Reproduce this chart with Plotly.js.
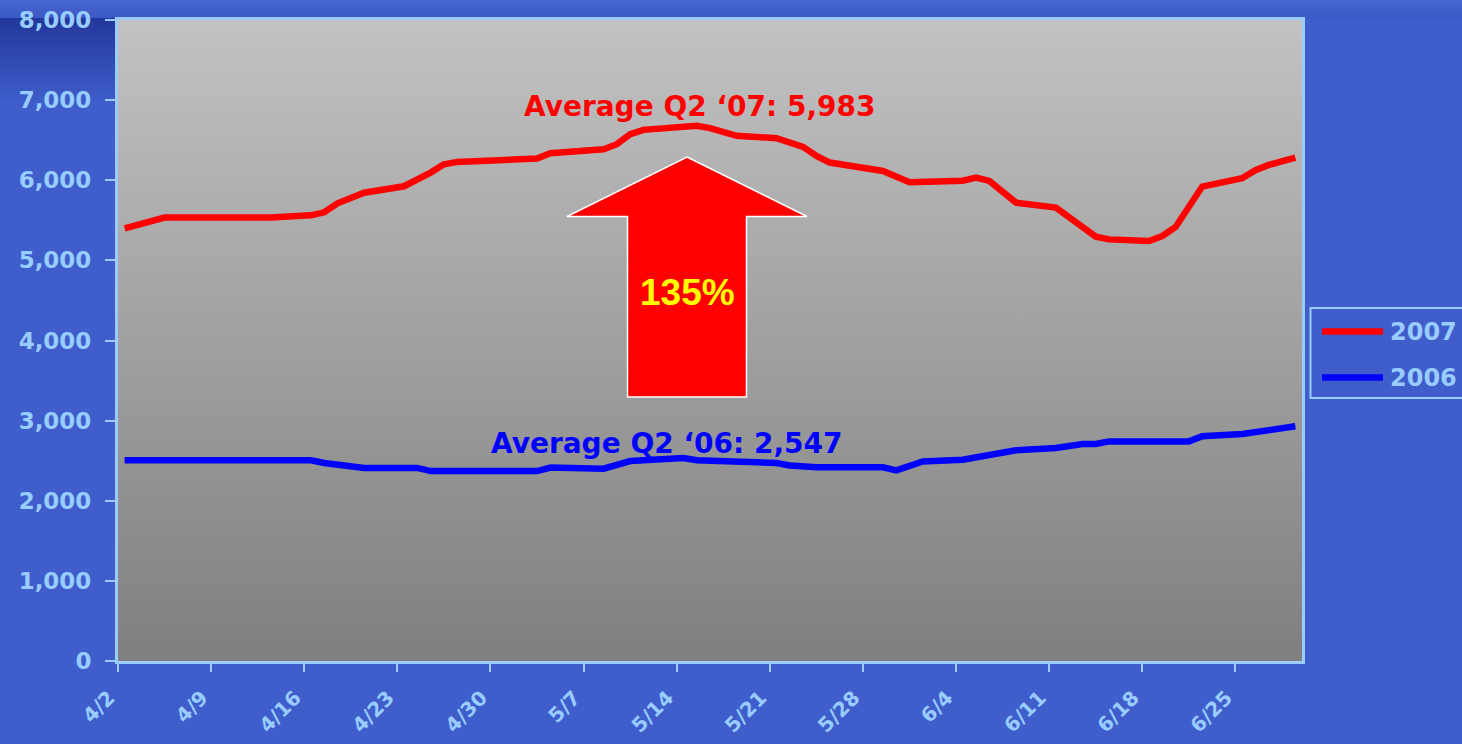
<!DOCTYPE html>
<html>
<head>
<meta charset="utf-8">
<script src="https://cdn.plot.ly/plotly-3.0.1.min.js"></script>
<style>
  html, body { margin: 0; padding: 0; background: #3F5ECB; }
  #chart {
    width: 1462px; height: 744px;
    background:
      linear-gradient(to bottom, #22379B, #3F5ECB) 0 18px / 117px 85px no-repeat,
      linear-gradient(to bottom, #4666D0, #3A58C4) 0 0 / 100% 19px no-repeat,
      #3F5ECB;
  }
</style>
</head>
<body>
<div id="chart"></div>
<script>
// ---- Data ----
const seriesNames = ['2007', '2006'];
const seriesColors = ['#FF0000', '#0000FF'];

const dates2007 = ['4/2','4/3','4/5','4/13','4/16','4/17','4/18','4/20','4/23','4/25','4/26','4/27',
  '5/2','5/3','5/4','5/8','5/9','5/10','5/11','5/14','5/15','5/16','5/18','5/21','5/23','5/24','5/25',
  '5/29','5/31','6/4','6/5','6/6','6/8','6/11','6/14','6/15','6/18','6/19','6/20','6/22','6/25','6/26','6/27','6/29'];
const values2007 = [5400,5440,5535,5535,5562,5600,5712,5845,5925,6096,6200,6229,
  6250,6271,6337,6387,6450,6575,6629,6679,6679,6650,6554,6525,6417,6304,6221,
  6116,5975,5995,6033,5992,5721,5658,5296,5262,5242,5304,5417,5921,6025,6125,6192,6283];

const dates2006 = ['4/2','4/16','4/17','4/20','4/24','4/25','5/3','5/4','5/8','5/10','5/14','5/15',
  '5/21','5/22','5/24','5/29','5/30','5/31','6/1','6/4','6/7','6/8','6/11','6/13','6/14','6/15',
  '6/21','6/22','6/25','6/27','6/29'];
const values2006 = [2504,2504,2471,2410,2410,2370,2370,2415,2400,2495,2533,2505,
  2471,2441,2417,2417,2379,2437,2491,2512,2604,2629,2658,2708,2708,2741,
  2741,2804,2833,2879,2929];

const tickLabels = ['4/2','4/9','4/16','4/23','4/30','5/7','5/14','5/21','5/28','6/4','6/11','6/18','6/25'];
const axisStart = '4/2';
const axisEnd = '6/30';
const year = 2007;

const annotationTexts = ['Average Q2 \u201807: 5,983', 'Average Q2 \u201806: 2,547', '135%'];

// ---- Helpers ----
const HALF_DAY = 12 * 3600 * 1000;
function md2ms(s) { const [m, d] = s.split('/').map(Number); return Date.UTC(year, m - 1, d); }
function msStr(ms) { return new Date(ms).toISOString().replace('T', ' ').slice(0, 19); }
function toDate(s) { return msStr(md2ms(s)); }

const W = 1462, H = 744, ML = 118, MR = 160, MT = 20, MB = 83;
const PW = W - ML - MR, PH = H - MT - MB;
const fx = p => (p - ML) / PW;
const fy = p => (H - MB - p) / PH;

const light = '#99CCFF';

const traces = [
  { x: dates2007.map(toDate), y: values2007, name: seriesNames[0], type: 'scatter', mode: 'lines',
    line: { color: seriesColors[0], width: 6.5 }, showlegend: false, hoverinfo: 'skip' },
  { x: dates2006.map(toDate), y: values2006, name: seriesNames[1], type: 'scatter', mode: 'lines',
    line: { color: seriesColors[1], width: 6.5 }, showlegend: false, hoverinfo: 'skip' }
];

// plot-area gradient
const gradSvg = "<svg xmlns='http://www.w3.org/2000/svg' width='100' height='100' preserveAspectRatio='none'>" +
  "<defs><linearGradient id='g' x1='0' y1='0' x2='0' y2='1'>" +
  "<stop offset='0' stop-color='#C2C2C2'/><stop offset='1' stop-color='#7F7F7F'/></linearGradient></defs>" +
  "<rect width='100' height='100' fill='url(#g)'/></svg>";
const gradUri = 'data:image/svg+xml;charset=utf-8,' + encodeURIComponent(gradSvg);

// arrow path (paper coords)
const arrowPts = [[687,157],[807,216.5],[746.5,216.5],[746.5,397],[627.5,397],[627.5,216.5],[567,216.5]];
const arrowPath = 'M ' + arrowPts.map(p => fx(p[0]) + ',' + fy(p[1])).join(' L ') + ' Z';

const shapes = [
  { type: 'path', xref: 'paper', yref: 'paper', path: arrowPath,
    fillcolor: '#FF0000', line: { color: '#FFFFFF', width: 1.5 }, layer: 'above' },
  // custom legend
  { type: 'rect', xref: 'paper', yref: 'paper', x0: fx(1310.5), x1: fx(1520), y0: fy(398), y1: fy(308),
    line: { color: light, width: 2 }, fillcolor: 'rgba(0,0,0,0)' },
  { type: 'line', xref: 'paper', yref: 'paper', x0: fx(1322), x1: fx(1383), y0: fy(331.5), y1: fy(331.5),
    line: { color: seriesColors[0], width: 6.5 } },
  { type: 'line', xref: 'paper', yref: 'paper', x0: fx(1322), x1: fx(1383), y0: fy(377.5), y1: fy(377.5),
    line: { color: seriesColors[1], width: 6.5 } }
];

const annotations = [
  { xref: 'paper', yref: 'paper', x: fx(700), y: fy(107), text: annotationTexts[0], showarrow: false,
    xanchor: 'center', yanchor: 'middle',
    font: { family: 'DejaVu Sans', size: 28, color: '#FF0000', weight: 'bold' } },
  { xref: 'paper', yref: 'paper', x: fx(667), y: fy(443), text: annotationTexts[1], showarrow: false,
    xanchor: 'center', yanchor: 'middle',
    font: { family: 'DejaVu Sans', size: 28, color: '#0000FF', weight: 'bold' } },
  { xref: 'paper', yref: 'paper', x: fx(687), y: fy(292), text: annotationTexts[2], showarrow: false,
    xanchor: 'center', yanchor: 'middle',
    font: { family: 'Liberation Sans', size: 37, color: '#FFFF00', weight: 'bold' } },
  { xref: 'paper', yref: 'paper', x: fx(1388), y: fy(332), text: seriesNames[0], showarrow: false,
    xanchor: 'left', yanchor: 'middle',
    font: { family: 'DejaVu Sans', size: 24, color: light, weight: 'bold' } },
  { xref: 'paper', yref: 'paper', x: fx(1388), y: fy(378), text: seriesNames[1], showarrow: false,
    xanchor: 'left', yanchor: 'middle',
    font: { family: 'DejaVu Sans', size: 24, color: light, weight: 'bold' } }
];

const layout = {
  width: W, height: H,
  margin: { l: ML, r: MR, t: MT, b: MB, pad: 0 },
  paper_bgcolor: 'rgba(0,0,0,0)',
  plot_bgcolor: 'rgba(0,0,0,0)',
  showlegend: false,
  xaxis: {
    type: 'date',
    range: [msStr(md2ms(axisStart) - HALF_DAY), msStr(md2ms(axisEnd) - HALF_DAY)],
    tickmode: 'array',
    tickvals: tickLabels.map(s => msStr(md2ms(s) - HALF_DAY)),
    ticktext: tickLabels,
    tickangle: -45,
    ticks: 'outside', ticklen: 8, tickwidth: 2, tickcolor: light,
    ticklabelstandoff: 6,
    ticklabelshift: -9,
    showline: true, linecolor: light, linewidth: 3, mirror: true,
    showgrid: false, zeroline: false,
    tickfont: { family: 'DejaVu Sans', size: 20, color: light, weight: 'bold' }
  },
  yaxis: {
    range: [0, 8000], dtick: 1000, tick0: 0, tickformat: ',d',
    ticks: 'outside', ticklen: 10, tickwidth: 2, tickcolor: light,
    ticklabelstandoff: 9,
    showline: true, linecolor: light, linewidth: 3, mirror: true,
    showgrid: false, zeroline: false,
    tickfont: { family: 'DejaVu Sans', size: 23, color: light, weight: 'bold' }
  },
  images: [{ source: gradUri, xref: 'paper', yref: 'paper', x: 0, y: 1, sizex: 1, sizey: 1,
    xanchor: 'left', yanchor: 'top', sizing: 'stretch', layer: 'below' }],
  shapes: shapes,
  annotations: annotations
};

Plotly.newPlot('chart', traces, layout, { displayModeBar: false, staticPlot: true });
</script>
</body>
</html>
